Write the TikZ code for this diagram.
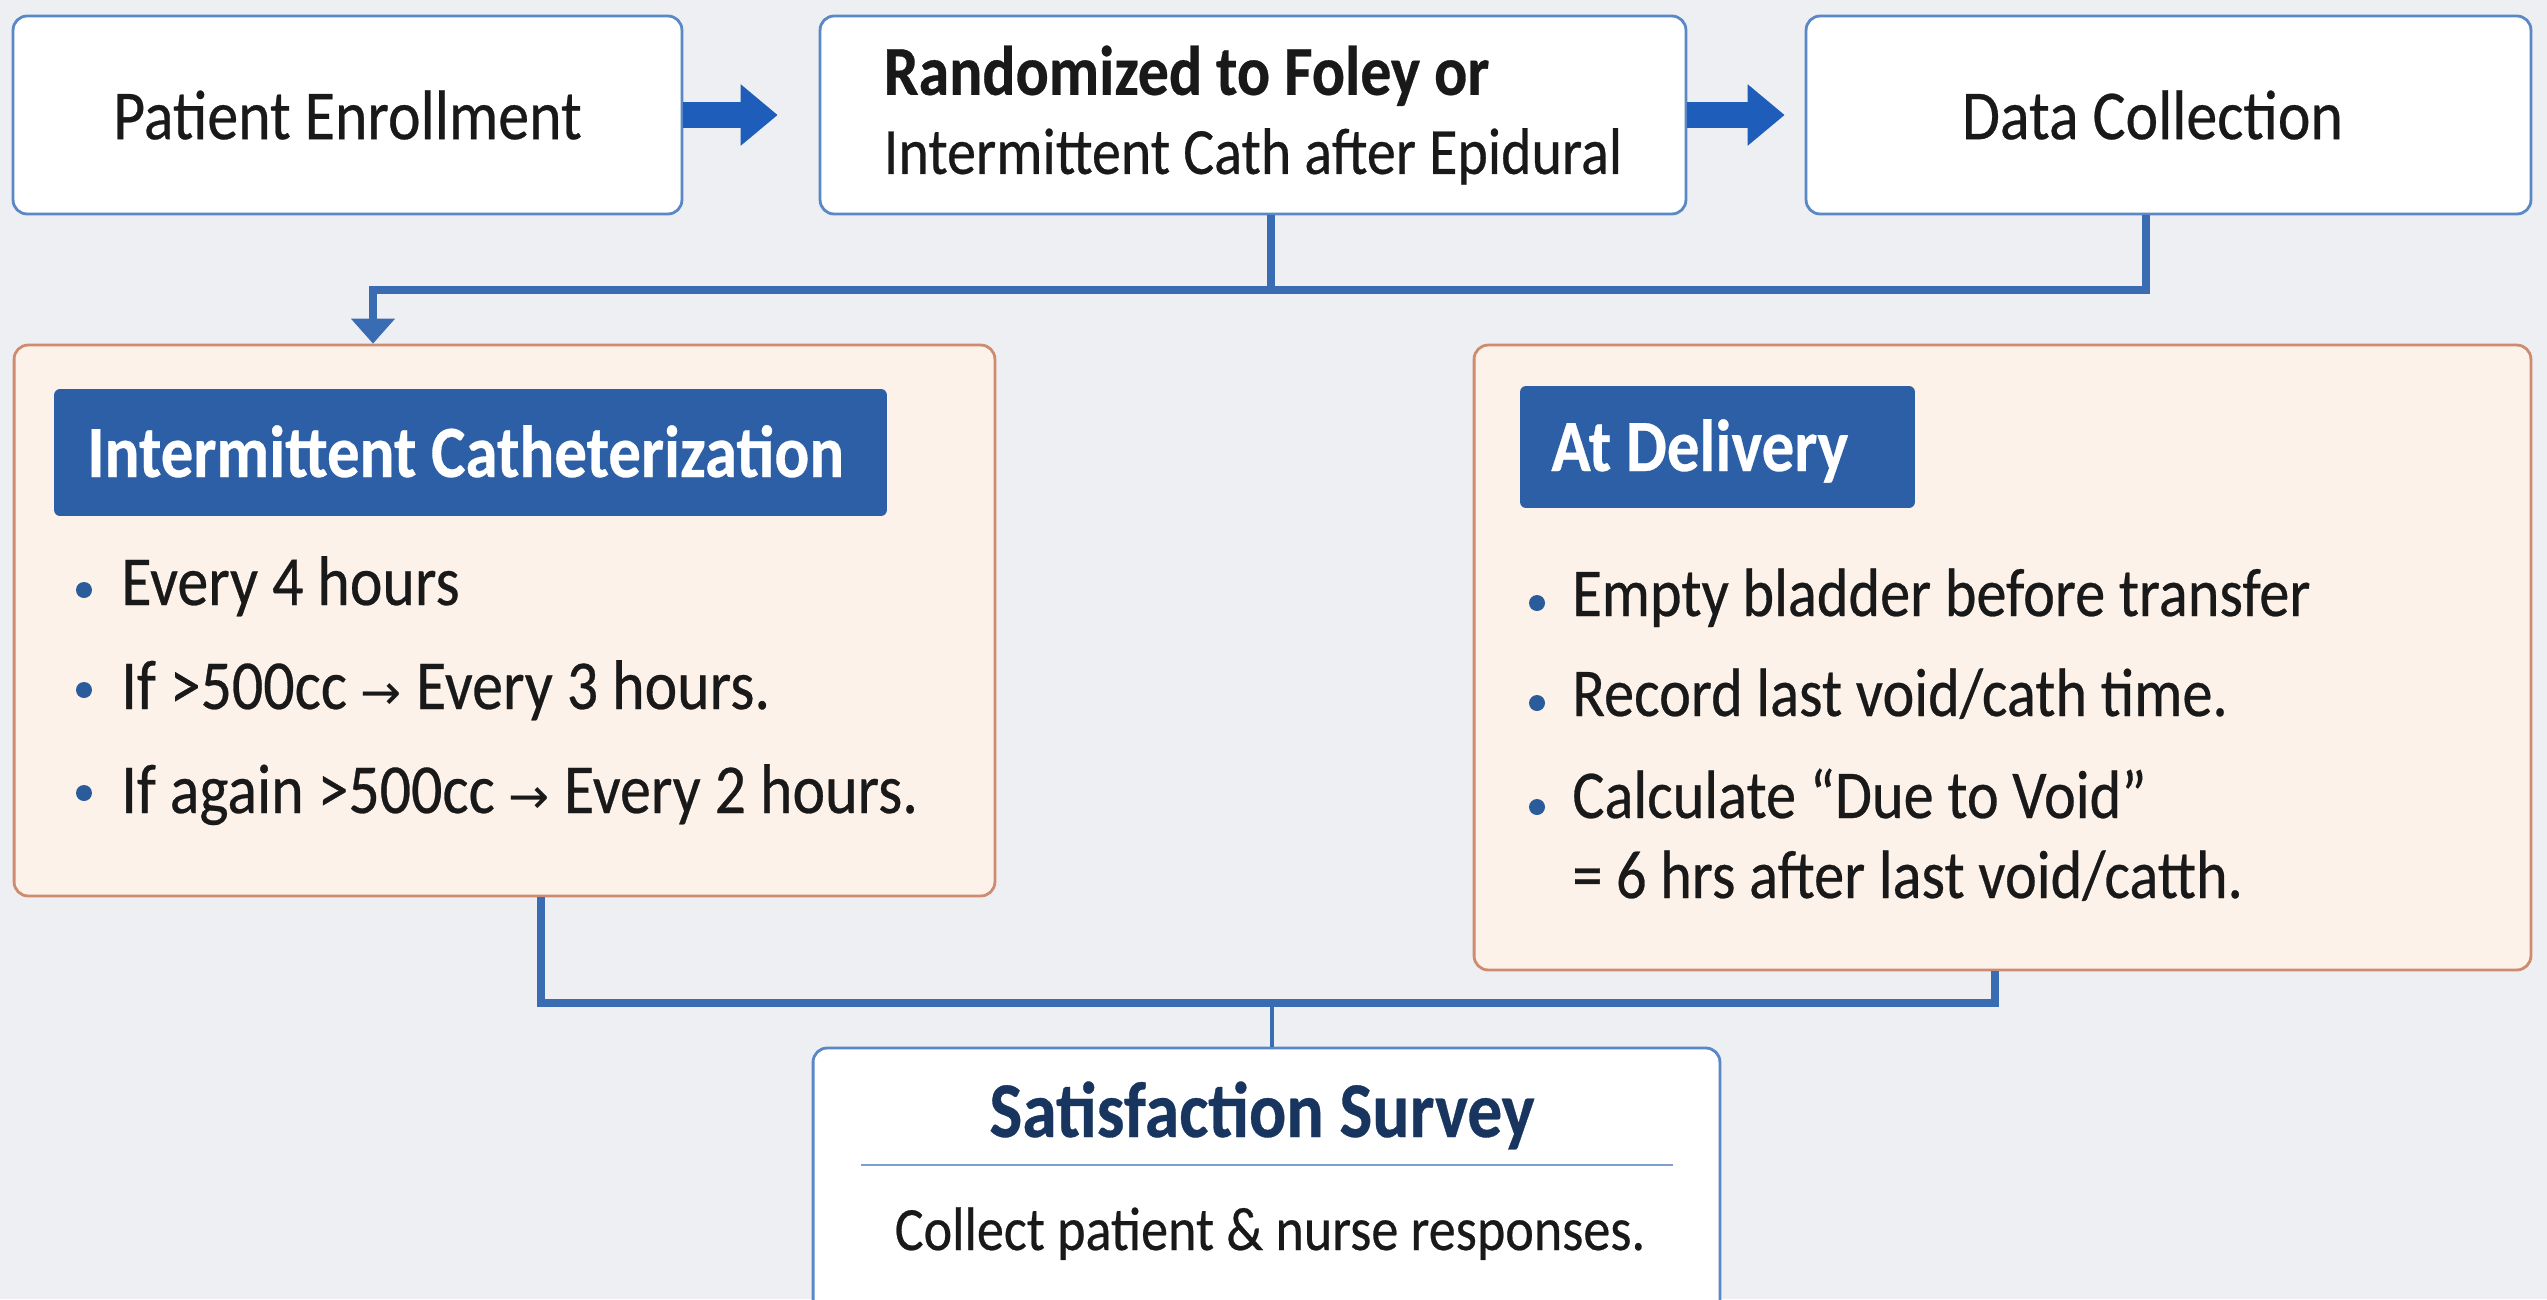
\documentclass[tikz,border=0pt]{standalone}
\usepackage{fontspec}
\setmainfont[FakeStretch=0.88, FakeBold=0.4]{Carlito}
\newfontfamily\arrowfont{DejaVu Sans}
\usetikzlibrary{arrows.meta}

\definecolor{bgcol}{HTML}{EEEFF3}
\definecolor{boxline}{HTML}{5A88C6}
\definecolor{flowblue}{HTML}{3A6CB4}
\definecolor{arrowblue}{HTML}{1E5EBA}
\definecolor{peach}{HTML}{FCF2E9}
\definecolor{peachline}{HTML}{CF8B70}
\definecolor{headblue}{HTML}{2C5FA6}
\definecolor{navy}{HTML}{17355F}
\definecolor{dotblue}{HTML}{2A5C9C}
\definecolor{rulecol}{HTML}{7C9FCF}

\newcommand{\gives}{{\fontsize{28}{32}\arrowfont →}}

\tikzset{
    stepbox/.style={draw=boxline, line width=1.6pt, fill=white, rounded corners=0.28cm,
        minimum height=3.96cm, font=\fontsize{40}{48}\selectfont, text=black!90},
    panel/.style={draw=peachline, line width=1.6pt, fill=peach, rounded corners=0.28cm},
    headbar/.style={fill=headblue, rounded corners=0.12cm},
    headtxt/.style={anchor=base west, inner sep=0pt, text=white,
        font=\fontsize{42}{50}\selectfont\bfseries},
    item/.style={anchor=base west, inner sep=0pt, text=black!90,
        font=\fontsize{40}{48}\selectfont},
    dot/.style={circle, fill=dotblue, inner sep=0pt, minimum size=0.32cm},
    link/.style={draw=flowblue, line width=4.2pt},
    bigarrow/.style={draw=arrowblue, line width=15pt,
        -{Triangle[length=0.74cm, width=1.18cm]}},
}

\begin{document}
\begin{tikzpicture}[x=0.02cm, y=-0.02cm]

        \path[fill=bgcol, use as bounding box] (0, 0) rectangle (2547, 1299);

        % top row
        \node[stepbox, minimum width=13.38cm] (enroll) at (347.5, 115) {Patient Enrollment};
        \node[stepbox, minimum width=17.32cm, align=left, font=\fontsize{40}{45}\selectfont] (rand) at (1253, 115)
            {{\bfseries Randomized to Foley or}\\
             {\fontsize{37.5}{45}\selectfont Intermittent Cath after Epidural}};
        \node[stepbox, minimum width=14.5cm] (data) at (2168.5, 115) {Data Collection\hspace*{0.64cm}};

        \draw[bigarrow, shorten >=0.82cm] (enroll.east) -- (rand.west);
        \draw[bigarrow, shorten >=0.4cm] (rand.east) -- (data.west);

        % intermittent catheterization
        \node[panel, minimum width=19.62cm, minimum height=11.02cm] (icath) at (504.5, 620.5) {};
        \node[headbar, minimum width=16.66cm, minimum height=2.54cm] (icathhead) at (470.5, 452.5) {};
        \node[headtxt] (icathtitle) at (87, 477) {Intermittent Catheterization};

        \node[dot] (i1) at (84, 590) {};
        \node[item] (i1txt) at (121, 605) {Every 4 hours};
        \node[dot] (i2) at (84, 690) {};
        \node[item] (i2txt) at (121, 709) {If >500cc \gives{} Every 3 hours.};
        \node[dot] (i3) at (84, 793) {};
        \node[item] (i3txt) at (121, 813) {If again >500cc \gives{} Every 2 hours.};

        % at delivery
        \node[panel, minimum width=21.14cm, minimum height=12.5cm] (deliv) at (2002.5, 657.5) {};
        \node[headbar, minimum width=7.9cm, minimum height=2.44cm] (delivhead) at (1717.5, 447) {};
        \node[headtxt] (delivtitle) at (1551, 471) {At Delivery};

        \node[dot] (d1) at (1537, 603) {};
        \node[item, font=\fontsize{39}{47}\selectfont] (d1txt) at (1572, 616) {Empty bladder before transfer};
        \node[dot] (d2) at (1537, 703) {};
        \node[item, font=\fontsize{39}{47}\selectfont] (d2txt) at (1572, 716) {Record last void/cath time.};
        \node[dot] (d3) at (1537, 807) {};
        \node[item, font=\fontsize{39}{47}\selectfont] (d3txt) at (1572, 818) {Calculate “Due to Void”};
        \node[item, font=\fontsize{39}{47}\selectfont] (d4txt) at (1572, 898) {= 6 hrs after last void/catth.};

        % split from the top row
        \coordinate (tl) at (373, 290);
        \coordinate (tm) at (1271, 290);
        \coordinate (tr) at (2146, 290);

        \draw[link] (tm |- rand.south) -- (tm);
        \draw[link, -{Triangle[length=0.5cm, width=0.85cm]}]
            (tr |- data.south) -- (tr) -- (tl) -- (tl |- icath.north);

        % satisfaction survey
        \node[stepbox, minimum width=18.14cm, minimum height=5.44cm] (survey) at (1266.5, 1184) {};
        \node[anchor=base, font=\fontsize{45}{54}\selectfont\bfseries, text=navy] (surveytitle)
            at (1262, 1137) {Satisfaction Survey};
        \draw[rulecol, line width=1.2pt] (861, 1165) -- (1673, 1165);
        \node[anchor=base, font=\fontsize{35}{42}\selectfont, text=black!90] (surveytxt)
            at (1270, 1250) {Collect patient \& nurse responses.};

        % merge into the survey
        \coordinate (bl) at (541, 1003);
        \coordinate (bm) at (1272, 1003);
        \coordinate (br) at (1995, 1003);

        \draw[link] (bl |- icath.south) -- (bl) -- (br) -- (br |- deliv.south);
        \draw[link, line width=2.8pt] (bm) -- (bm |- survey.north);

\end{tikzpicture}
\end{document}
